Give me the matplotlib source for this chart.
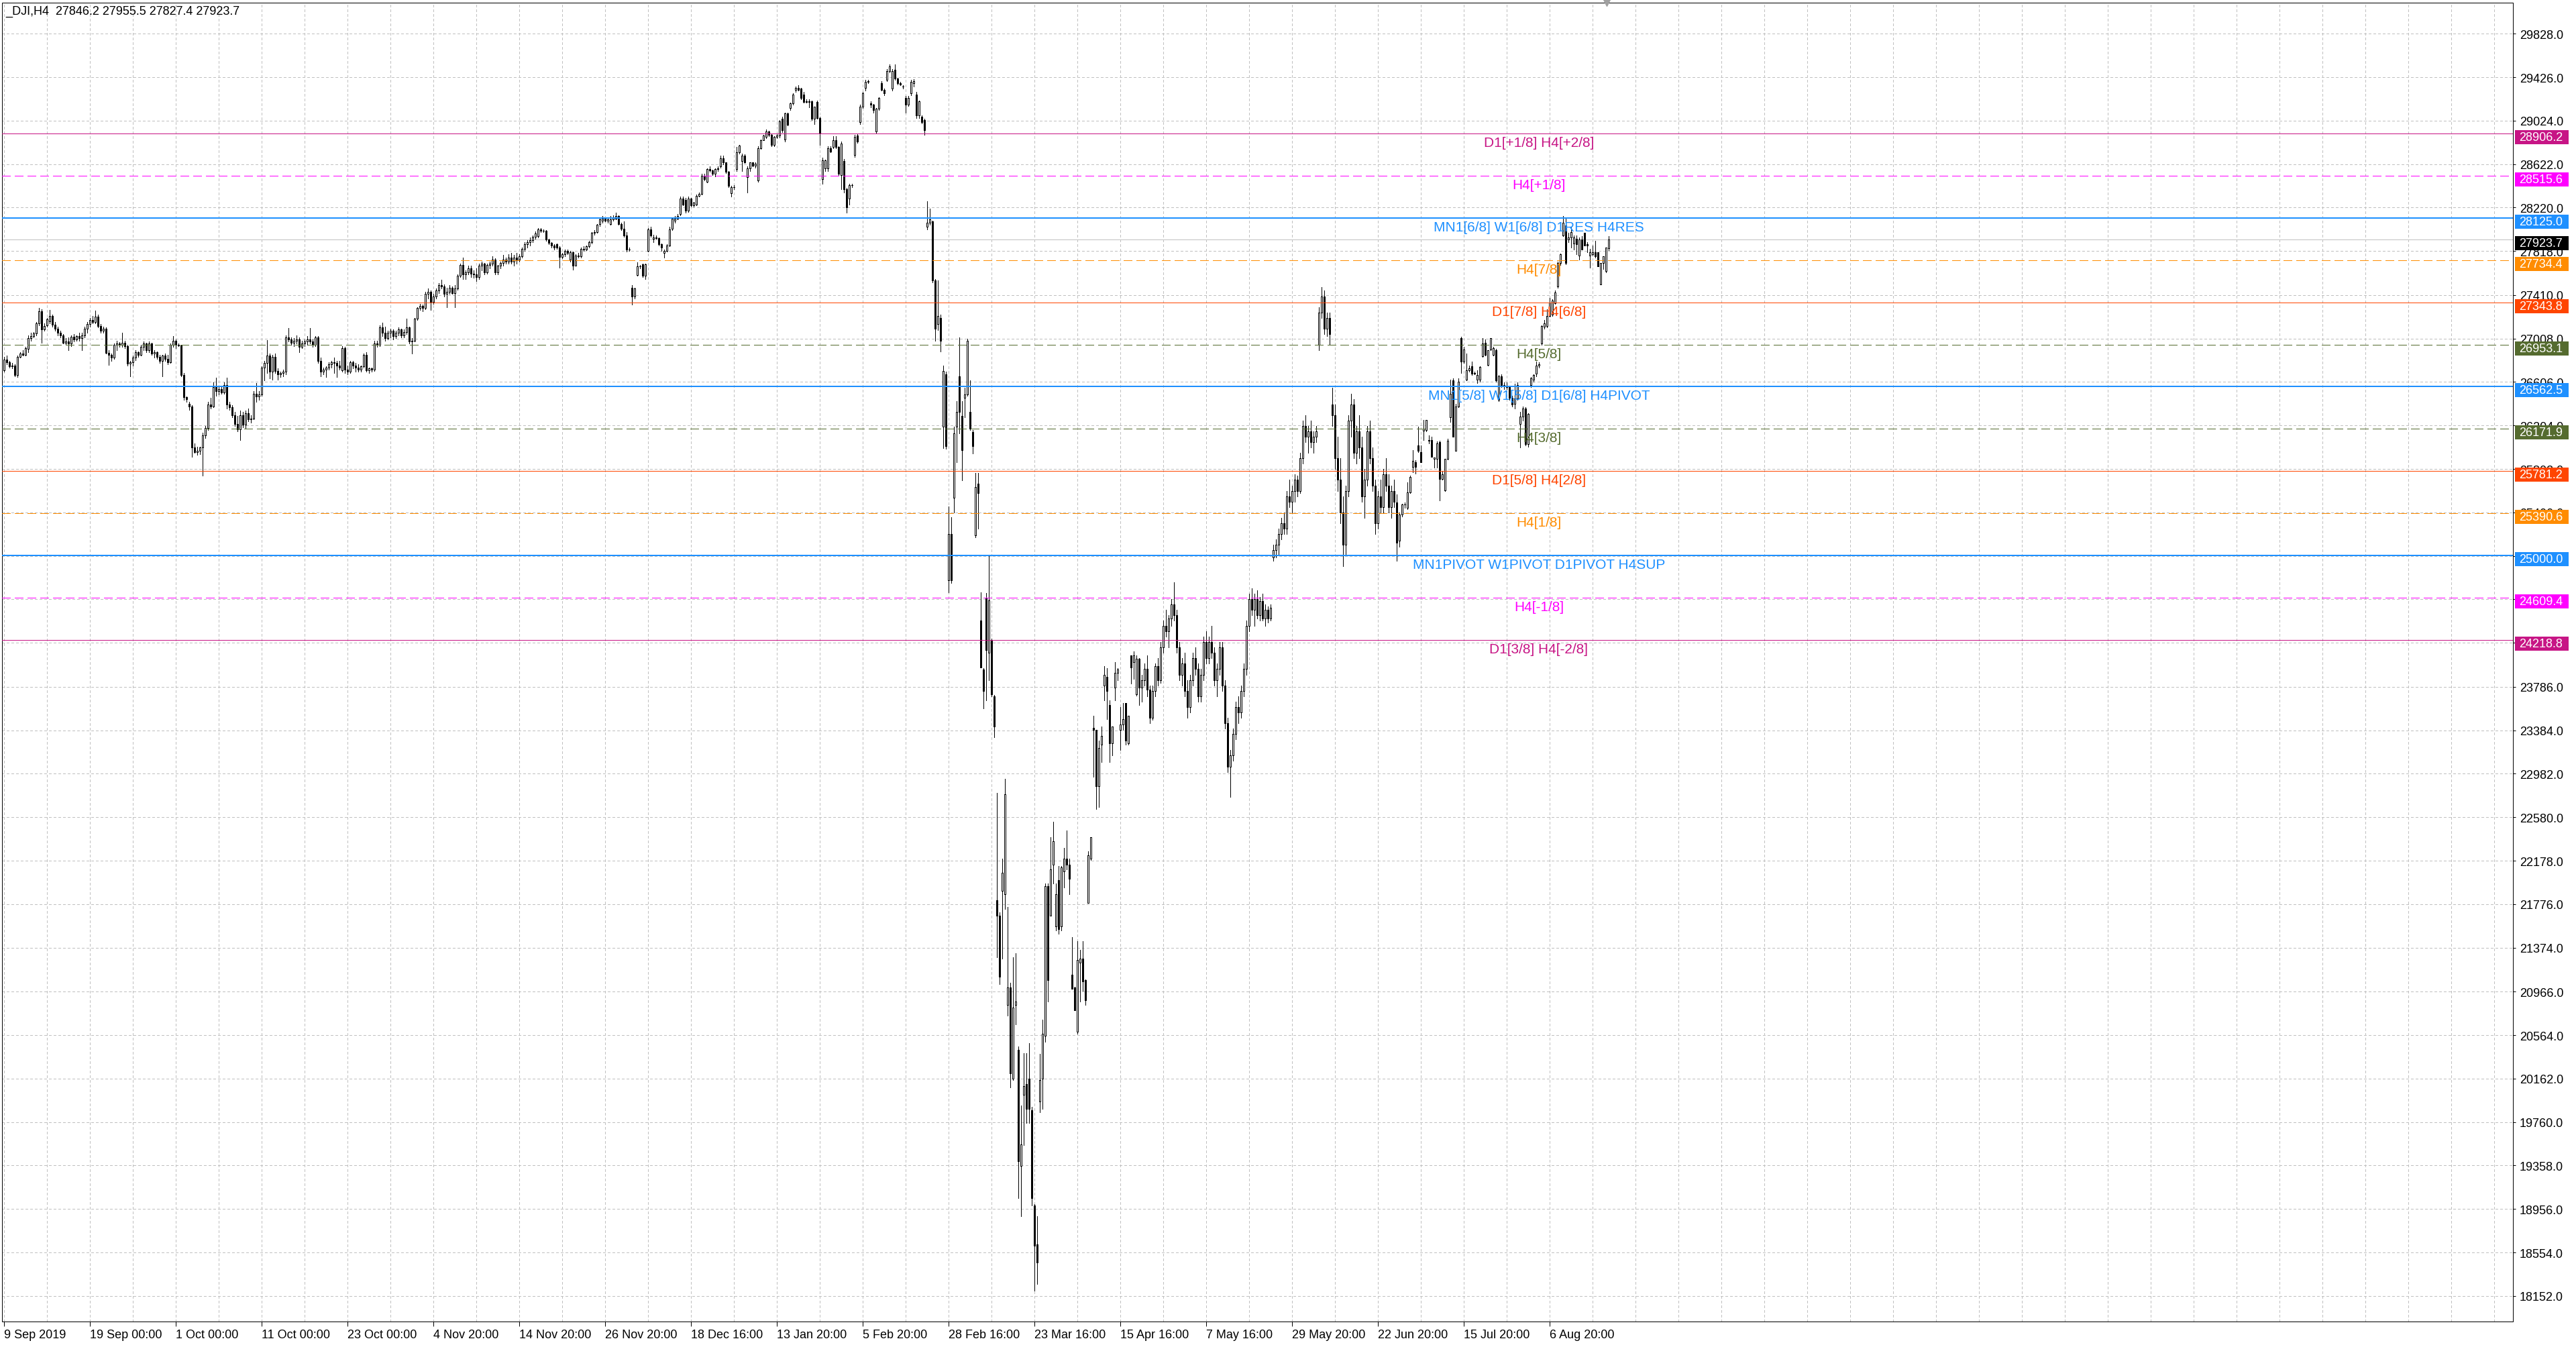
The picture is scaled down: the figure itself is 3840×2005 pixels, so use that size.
import matplotlib
matplotlib.use("Agg")
import matplotlib.pyplot as plt
from matplotlib.patches import Rectangle
from matplotlib.transforms import blended_transform_factory, offset_copy

plt.rcParams['font.family'] = ['Liberation Sans', 'DejaVu Sans']

symbol_info = "_DJI,H4  27846.2 27955.5 27827.4 27923.7"

# H4 candles, one row per 16 bars (one grid cell)
opens = [
    26712, 26816, 26790, 26754, 26760, 26671, 26836, 26867, 26860, 26910, 27012, 27033, 27054, 27147, 27260, 27095,
    27130, 27167, 27219, 27136, 27100, 27060, 27040, 26971, 26980, 26960, 27025, 27000, 27030, 27010, 27040, 27100,
    27140, 27180, 27160, 27209, 27126, 27080, 27100, 26878, 26860, 26830, 26950, 26960, 26950, 26970, 26940, 26774,
    26790, 26830, 26880, 26860, 26930, 26961, 26900, 26960, 26870, 26880, 26840, 26800, 26850, 26820, 26790, 26950,
    26990, 26950, 26945, 26671, 26464, 26402, 26380, 25999, 25960, 25970, 26000, 26110, 26180, 26400, 26380, 26560,
    26520, 26540, 26510, 26580, 26400, 26370, 26300, 26220, 26170, 26300, 26210, 26320, 26260, 26270, 26500, 26470,
    26490, 26740, 26780, 26850, 26700, 26840, 26710, 26680, 26690, 26700, 27020, 27000, 26970, 26990, 27000, 26930,
    26960, 26980, 27000, 26980, 26950, 27020, 26800, 26700, 26720, 26740, 26770, 26790, 26780, 26760, 26712, 26920,
    26720, 26700, 26790, 26760, 26740, 26720, 26750, 26860, 26712, 26730, 26720, 26960, 26950, 27110, 27060, 27010,
    27060, 27080, 27030, 27060, 27090, 27040, 27070, 27110, 26980, 26990, 27190, 27290, 27310, 27290, 27420, 27440,
    27350, 27400, 27450, 27500, 27490, 27420, 27440, 27480, 27430, 27470, 27590, 27690, 27600, 27620, 27660, 27610,
    27600, 27580, 27680, 27700, 27620, 27690, 27700, 27740, 27620, 27680, 27710, 27740, 27720, 27760, 27720, 27760,
    27740, 27770, 27840, 27880, 27900, 27920, 27950, 27953, 28015, 28005, 28005, 27922, 27896, 27866, 27881, 27850,
    27763, 27790, 27819, 27736, 27809, 27685, 27778, 27767, 27840, 27833, 27860, 27902, 27984, 27995, 28067, 28098,
    28119, 28098, 28067, 28109, 28119, 28140, 28070, 28026, 27960, 27829, 27480, 27395, 27595, 27674, 27695, 27591,
    27819, 28015, 27930, 27945, 27935, 27881, 27800, 27819, 27870, 28026, 28098, 28119, 28160, 28305, 28290, 28190,
    28300, 28243, 28250, 28330, 28346, 28512, 28460, 28574, 28564, 28530, 28574, 28600, 28677, 28636, 28553, 28350,
    28408, 28574, 28729, 28650, 28698, 28500, 28584, 28636, 28605, 28470, 28770, 28843, 28874, 28926, 28890, 28802,
    28874, 28884, 29039, 28850, 29091, 29143, 29184, 29308, 29329, 29319, 29267, 29205, 29195, 29205, 29039, 29195,
    29050, 28480, 28584, 28584, 28770, 28781, 28843, 28781, 28520, 28650, 28388, 28300, 28429, 28708, 28884, 29008,
    29153, 29329, 29381, 29184, 29174, 28926, 29133, 29370, 29308, 29400, 29484, 29319, 29494, 29412, 29370, 29339,
    29236, 29174, 29277, 29370, 29267, 29070, 29060, 29029, 28045, 28078, 28091, 27549, 27140, 27199, 26194, 26677,
    24774, 25203, 25534, 26194, 26657, 26294, 26459, 26492, 26327, 26142, 25190, 25666, 24397, 23947, 24608, 24099,
    24212, 23696, 21813, 21667, 21899, 21866, 20841, 21006, 20160, 20841, 20431, 19354, 20015, 20114, 20160, 19870,
    18991, 18627, 19949, 20160, 20557, 21945, 21667, 22143, 21568, 21998, 21568, 22077, 22196, 22143, 21125, 21006,
    20597, 21238, 21271, 21072, 21786, 22196, 23406, 23386, 22870, 23253, 23795, 23881, 23617, 23267, 23782, 23914,
    23386, 23439, 23637, 23267, 24080, 24014, 23716, 24047, 23782, 23850, 23950, 23760, 23500, 23750, 23980, 23850,
    24150, 24350, 24300, 24420, 24550, 24450, 24150, 23900, 24000, 23750, 23600, 23850, 24050, 23950, 23700, 23900,
    24200, 24050, 24200, 24100, 23850, 23950, 24150, 23800, 23450, 23050, 23150, 23350, 23600, 23550, 23750, 23950,
    24350, 24600, 24500, 24600, 24450, 24580, 24420, 24500, 24420, 24980, 25050, 25100, 25200, 25300, 25250, 25550,
    25500, 25600, 25700, 25600, 25900, 26200, 26100, 26150, 26050, 26100, 26950, 27250, 27400, 27100, 27200, 26400,
    26300, 25900, 25700, 25400, 25100, 25600, 26250, 26400, 25950, 26150, 26000, 25550, 25700, 26150, 25900, 25650,
    25300, 25550, 25450, 25750, 25650, 25450, 25600, 25492, 25140, 25380, 25471, 25440, 25585, 25823, 25864, 26019,
    25957, 26154, 26164, 26061, 26071, 25895, 25895, 26050, 25709, 25606, 25895, 26278, 26619, 25968, 26381, 27012,
    26795, 26629, 26712, 26754, 26681, 26629, 26629, 26847, 26971, 26765, 26909, 26857, 26898, 26444, 26661, 26580,
    26572, 26560, 26458, 26402, 26454, 26216, 26288, 26361, 26030, 26578, 26629, 26681, 26758, 26960, 27116, 27126,
    27219, 27229, 27337, 27488, 27705, 27964, 28057, 27922, 27943, 27887, 27933, 27778, 27922, 27984, 27881, 27778,
    27788, 27809, 27809, 27509, 27705, 27633, 27846,
]
highs = [
    26840, 26850, 26800, 26780, 26770, 26850, 26880, 26900, 26930, 27040, 27060, 27070, 27160, 27291, 27280, 27150,
    27200, 27271, 27230, 27160, 27120, 27080, 27050, 27010, 27020, 27040, 27050, 27040, 27060, 27060, 27120, 27160,
    27200, 27220, 27267, 27230, 27140, 27120, 27110, 26900, 26870, 26960, 26990, 26975, 27064, 26990, 26950, 26800,
    26850, 26900, 26890, 26950, 26980, 26970, 26980, 26970, 26900, 26890, 26860, 26860, 26870, 26860, 26960, 27033,
    27000, 26960, 26950, 26690, 26470, 26420, 26390, 26040, 26010, 26010, 26140, 26200, 26420, 26460, 26600, 26646,
    26560, 26570, 26600, 26646, 26420, 26390, 26330, 26290, 26340, 26330, 26340, 26360, 26300, 26520, 26599, 26520,
    26750, 26800, 26992, 26870, 26860, 26870, 26730, 26700, 26720, 27040, 27105, 27020, 27010, 27040, 27020, 26990,
    27000, 27030, 27105, 27000, 27030, 27030, 26830, 26740, 26750, 26790, 26800, 26830, 26800, 26800, 26940, 26930,
    26760, 26800, 26800, 26780, 26770, 26760, 26870, 26880, 26740, 26740, 26990, 26990, 27130, 27157, 27120, 27080,
    27100, 27090, 27080, 27110, 27100, 27090, 27190, 27120, 27010, 27200, 27300, 27330, 27320, 27440, 27470, 27450,
    27420, 27470, 27520, 27550, 27510, 27480, 27500, 27490, 27500, 27600, 27700, 27757, 27640, 27680, 27680, 27640,
    27660, 27700, 27720, 27710, 27700, 27720, 27767, 27750, 27690, 27720, 27780, 27760, 27790, 27800, 27780, 27800,
    27790, 27850, 27900, 27920, 27940, 27960, 28000, 28030, 28030, 28020, 28010, 27930, 27900, 27880, 27890, 27860,
    27800, 27830, 27830, 27820, 27815, 27790, 27800, 27850, 27860, 27870, 27910, 27995, 28010, 28070, 28120, 28140,
    28130, 28130, 28140, 28150, 28171, 28150, 28080, 28090, 27990, 27850, 27500, 27480, 27715, 27690, 27700, 27700,
    28030, 28040, 27970, 27960, 27940, 27890, 27830, 27880, 28040, 28130, 28140, 28160, 28320, 28320, 28310, 28320,
    28310, 28270, 28340, 28360, 28530, 28530, 28580, 28600, 28570, 28580, 28600, 28698, 28700, 28640, 28560, 28420,
    28430, 28780, 28800, 28720, 28710, 28600, 28640, 28640, 28640, 28790, 28850, 28890, 28940, 28930, 28900, 28880,
    28900, 29030, 29060, 29100, 29100, 29190, 29280, 29340, 29350, 29330, 29290, 29220, 29220, 29210, 29153, 29210,
    29060, 28680, 28660, 28790, 28790, 28880, 28880, 28790, 28830, 28670, 28400, 28440, 28440, 28890, 28900, 29170,
    29290, 29400, 29400, 29200, 29180, 29140, 29240, 29390, 29320, 29500, 29546, 29500, 29546, 29420, 29380, 29350,
    29250, 29250, 29400, 29410, 29290, 29210, 29070, 29040, 28276, 28210, 28100, 27560, 27549, 27230, 26756, 26700,
    25455, 25355, 26194, 26426, 27021, 26426, 26556, 27008, 26624, 26160, 25765, 25765, 24661, 23960, 24655, 24998,
    24230, 23710, 22804, 21700, 22196, 22936, 21747, 21050, 21284, 21324, 20460, 19916, 20398, 20398, 20491, 19900,
    19000, 18892, 20392, 20709, 21965, 21965, 22394, 22540, 21965, 22130, 22130, 22295, 22460, 22196, 21469, 21010,
    21436, 21350, 21436, 21080, 22262, 22394, 23518, 23386, 23287, 23419, 23980, 23960, 23663, 23420, 24014, 23960,
    23600, 23637, 23637, 23518, 24080, 24114, 24080, 24050, 23900, 24000, 24080, 23800, 23800, 24000, 24050, 24200,
    24400, 24500, 24450, 24600, 24752, 24500, 24200, 24050, 24100, 23850, 23900, 24100, 24150, 24000, 23950, 24250,
    24300, 24250, 24350, 24150, 24000, 24200, 24200, 23850, 23500, 23200, 23400, 23650, 23700, 23800, 24000, 24400,
    24650, 24700, 24650, 24680, 24620, 24650, 24550, 24530, 24550, 25100, 25150, 25250, 25350, 25400, 25600, 25700,
    25650, 25750, 25740, 25950, 26250, 26300, 26200, 26250, 26150, 26200, 27300, 27486, 27450, 27250, 27250, 26550,
    26400, 26100, 25900, 25550, 25650, 26300, 26500, 26450, 26200, 26300, 26100, 25800, 26200, 26250, 26000, 25700,
    25600, 25700, 25800, 25900, 25750, 25650, 25700, 25564, 25400, 25480, 25490, 25680, 25740, 25978, 25885, 26195,
    26019, 26257, 26257, 26113, 26102, 25910, 26055, 26060, 25782, 25895, 26081, 26630, 26640, 26402, 26640, 27022,
    26930, 26867, 26760, 26795, 26700, 26712, 26750, 27012, 27002, 26900, 27012, 26930, 26910, 26670, 26680, 26600,
    26600, 26570, 26480, 26588, 26600, 26330, 26380, 26371, 26320, 26650, 26680, 26795, 26790, 27130, 27178, 27281,
    27385, 27374, 27450, 27720, 27794, 28140, 28119, 27984, 28036, 27964, 27964, 27943, 27953, 27984, 27902, 27840,
    27871, 27912, 27809, 27705, 27771, 27850, 27955,
]
lows = [
    26700, 26770, 26740, 26730, 26660, 26650, 26830, 26850, 26850, 26880, 26990, 27020, 27040, 27130, 26971, 27080,
    27120, 27150, 27120, 27080, 27040, 27020, 26960, 26950, 26900, 26940, 26980, 26990, 26990, 26900, 27020, 27060,
    27120, 27150, 27150, 27110, 27060, 27060, 26870, 26764, 26800, 26820, 26900, 26930, 26930, 26920, 26760, 26660,
    26760, 26810, 26840, 26850, 26900, 26880, 26880, 26860, 26830, 26820, 26780, 26660, 26800, 26770, 26780, 26930,
    26920, 26940, 26660, 26440, 26420, 26350, 25916, 25950, 25930, 25940, 25740, 26090, 26160, 26360, 26370, 26480,
    26490, 26500, 26500, 26360, 26350, 26280, 26200, 26150, 26071, 26190, 26180, 26240, 26230, 26260, 26420, 26440,
    26480, 26620, 26690, 26640, 26630, 26690, 26630, 26650, 26660, 26680, 26980, 26950, 26940, 26960, 26880, 26920,
    26940, 26950, 26960, 26930, 26940, 26780, 26660, 26680, 26650, 26720, 26740, 26690, 26650, 26720, 26700, 26690,
    26680, 26690, 26730, 26700, 26700, 26700, 26740, 26700, 26690, 26700, 26710, 26930, 26940, 27030, 26990, 27000,
    27020, 27000, 27010, 27040, 27020, 27020, 27050, 26960, 26867, 26980, 27180, 27270, 27260, 27280, 27380, 27270,
    27330, 27380, 27430, 27470, 27400, 27300, 27420, 27420, 27300, 27460, 27580, 27560, 27560, 27600, 27580, 27570,
    27540, 27560, 27640, 27600, 27610, 27660, 27680, 27600, 27600, 27660, 27680, 27700, 27700, 27700, 27680, 27700,
    27720, 27760, 27820, 27850, 27870, 27900, 27930, 27940, 27990, 27990, 27910, 27880, 27850, 27830, 27840, 27664,
    27750, 27770, 27790, 27720, 27647, 27680, 27760, 27755, 27820, 27825, 27850, 27890, 27970, 27985, 28050, 28080,
    28090, 28080, 28060, 28100, 28110, 28060, 28010, 27950, 27810, 27820, 27322, 27380, 27590, 27660, 27580, 27560,
    27810, 27950, 27900, 27930, 27870, 27820, 27760, 27810, 27860, 28010, 28080, 28110, 28150, 28240, 28170, 28180,
    28230, 28230, 28240, 28320, 28340, 28470, 28450, 28553, 28520, 28510, 28560, 28590, 28620, 28540, 28410, 28320,
    28390, 28560, 28720, 28560, 28630, 28357, 28560, 28600, 28590, 28460, 28760, 28840, 28860, 28880, 28790, 28790,
    28860, 28870, 28920, 28830, 28980, 29120, 29170, 29290, 29300, 29220, 29190, 29190, 29150, 29030, 28990, 29040,
    28800, 28440, 28560, 28560, 28730, 28770, 28770, 28520, 28390, 28360, 28171, 28250, 28410, 28690, 28820, 28990,
    29140, 29300, 29370, 29150, 29100, 28910, 29120, 29300, 29260, 29390, 29470, 29300, 29400, 29360, 29350, 29320,
    29100, 29160, 29260, 29340, 29050, 29050, 29000, 28890, 28020, 28060, 27530, 26988, 27087, 26889, 25996, 25990,
    24661, 24750, 25401, 25864, 26129, 25698, 26280, 26480, 26162, 25943, 25170, 25249, 23967, 23584, 23663, 23848,
    23700, 23320, 21284, 21039, 21271, 21733, 20742, 20081, 20147, 20663, 19057, 18892, 19550, 19751, 19751, 18991,
    18198, 18264, 19850, 19883, 20500, 20874, 21667, 21965, 21535, 21502, 21535, 21932, 22097, 21866, 20993, 20795,
    20577, 20874, 20973, 20841, 21786, 22183, 22956, 22659, 22672, 23088, 23663, 23485, 23088, 23154, 23663, 23848,
    23201, 23386, 23253, 23253, 23815, 23860, 23703, 23617, 23650, 23800, 23700, 23450, 23480, 23700, 23800, 23820,
    24100, 24250, 24150, 24350, 24400, 24100, 23850, 23800, 23700, 23500, 23550, 23800, 23900, 23650, 23650, 23850,
    24000, 24000, 24050, 23800, 23700, 23900, 23750, 23400, 23000, 22770, 23100, 23300, 23450, 23500, 23700, 23900,
    24300, 24450, 24350, 24420, 24400, 24400, 24350, 24380, 24400, 24950, 24980, 25000, 25150, 25200, 25200, 25450,
    25400, 25500, 25550, 25580, 25850, 26050, 25950, 26000, 25950, 26050, 26900, 27200, 27050, 27031, 26950, 26200,
    25800, 25600, 25300, 24900, 25000, 25550, 26100, 25900, 25850, 25900, 25500, 25350, 25650, 25850, 25600, 25200,
    25250, 25400, 25400, 25600, 25400, 25350, 25450, 24954, 25080, 25360, 25440, 25430, 25580, 25771, 25761, 25957,
    25864, 26071, 26150, 26040, 25916, 25813, 25813, 25513, 25700, 25600, 25890, 26237, 26102, 25968, 26370, 26691,
    26780, 26620, 26700, 26670, 26680, 26598, 26609, 26840, 26850, 26760, 26900, 26850, 26609, 26430, 26560, 26540,
    26540, 26440, 26380, 26361, 26440, 25999, 26250, 26019, 26009, 26557, 26610, 26660, 26740, 26950, 27100, 27110,
    27210, 27220, 27330, 27480, 27690, 27953, 27695, 27902, 27850, 27829, 27788, 27736, 27829, 27871, 27809, 27664,
    27778, 27757, 27674, 27509, 27653, 27623, 27827,
]
closes = [
    26816, 26790, 26754, 26760, 26671, 26836, 26867, 26860, 26919, 27012, 27033, 27054, 27147, 27260, 27095, 27126,
    27188, 27219, 27136, 27100, 27060, 27040, 26971, 26980, 26960, 27025, 27000, 27030, 27010, 27040, 27100, 27140,
    27180, 27160, 27209, 27126, 27080, 27100, 26878, 26860, 26830, 26950, 26960, 26950, 26970, 26940, 26774, 26790,
    26830, 26880, 26860, 26930, 26961, 26900, 26960, 26870, 26880, 26840, 26800, 26850, 26820, 26790, 26950, 26990,
    26950, 26945, 26671, 26464, 26450, 26380, 25999, 25960, 25970, 26000, 26110, 26180, 26400, 26380, 26560, 26520,
    26540, 26510, 26580, 26400, 26370, 26300, 26220, 26170, 26300, 26210, 26320, 26260, 26270, 26500, 26470, 26490,
    26740, 26780, 26850, 26700, 26840, 26710, 26680, 26690, 26700, 27020, 27000, 26970, 26990, 27000, 26930, 26960,
    26980, 27000, 26980, 26950, 27020, 26800, 26700, 26720, 26740, 26770, 26790, 26780, 26760, 26740, 26920, 26720,
    26700, 26790, 26760, 26740, 26720, 26750, 26860, 26712, 26730, 26720, 26960, 26950, 27110, 27060, 27010, 27060,
    27080, 27030, 27060, 27090, 27040, 27070, 27110, 26980, 26990, 27190, 27290, 27310, 27290, 27420, 27440, 27350,
    27400, 27450, 27500, 27490, 27420, 27440, 27480, 27430, 27470, 27590, 27690, 27600, 27620, 27660, 27610, 27600,
    27580, 27680, 27700, 27620, 27690, 27700, 27740, 27620, 27680, 27710, 27740, 27720, 27760, 27720, 27760, 27740,
    27770, 27840, 27880, 27900, 27920, 27950, 27980, 28015, 28005, 28005, 27922, 27896, 27866, 27850, 27850, 27763,
    27790, 27819, 27798, 27809, 27685, 27778, 27770, 27840, 27833, 27860, 27902, 27984, 27995, 28060, 28109, 28119,
    28098, 28110, 28109, 28125, 28140, 28070, 28026, 27960, 27829, 27830, 27395, 27470, 27674, 27674, 27591, 27695,
    28015, 27960, 27945, 27935, 27881, 27850, 27819, 27870, 28015, 28119, 28119, 28140, 28305, 28250, 28190, 28300,
    28243, 28264, 28330, 28346, 28512, 28481, 28574, 28564, 28530, 28574, 28580, 28677, 28636, 28553, 28420, 28408,
    28410, 28729, 28791, 28700, 28640, 28584, 28636, 28605, 28625, 28770, 28843, 28884, 28926, 28890, 28802, 28874,
    28884, 29019, 28936, 29091, 28988, 29184, 29267, 29329, 29308, 29236, 29195, 29195, 29205, 29039, 29153, 29050,
    28905, 28657, 28657, 28770, 28739, 28843, 28781, 28533, 28812, 28388, 28222, 28429, 28429, 28874, 28833, 29153,
    29277, 29381, 29390, 29174, 29122, 29133, 29236, 29308, 29277, 29484, 29525, 29484, 29412, 29370, 29360, 29339,
    29174, 29236, 29381, 29391, 29070, 29205, 29008, 28936, 28078, 28111, 27549, 27100, 27219, 26988, 26710, 26016,
    25203, 24774, 26130, 26327, 26327, 25976, 26492, 26988, 26175, 26016, 25633, 25580, 23967, 23749, 24126, 24589,
    23716, 23419, 21667, 21105, 22064, 22791, 21006, 20213, 20821, 20874, 19401, 19552, 20094, 19883, 19883, 19057,
    18614, 18462, 20147, 20577, 21945, 21072, 22097, 22361, 21866, 21548, 22117, 22196, 22143, 22011, 20993, 20795,
    21258, 21271, 21059, 20887, 22229, 22394, 23386, 22870, 23220, 23333, 23894, 23749, 23267, 23419, 23914, 23947,
    23439, 23485, 23287, 23518, 23967, 24080, 24047, 23782, 23850, 23950, 23760, 23500, 23750, 23980, 23850, 24150,
    24350, 24300, 24420, 24550, 24450, 24150, 23900, 24000, 23750, 23600, 23850, 24050, 23950, 23700, 23900, 24200,
    24050, 24200, 24100, 23850, 23950, 24150, 23800, 23450, 23050, 23150, 23350, 23600, 23550, 23750, 23950, 24350,
    24600, 24500, 24600, 24450, 24580, 24420, 24500, 24420, 24520, 25050, 25100, 25200, 25300, 25250, 25550, 25500,
    25600, 25700, 25600, 25900, 26200, 26100, 26150, 26050, 26100, 26150, 27250, 27400, 27100, 27200, 27050, 26300,
    25900, 25700, 25400, 25100, 25600, 26250, 26400, 25950, 26150, 26000, 25550, 25700, 26150, 25900, 25650, 25300,
    25550, 25450, 25750, 25650, 25450, 25600, 25500, 25120, 25380, 25471, 25475, 25585, 25730, 25875, 25823, 25968,
    25864, 26175, 26257, 26071, 25916, 25906, 26040, 25709, 25751, 25895, 26061, 26495, 26102, 26381, 26609, 26795,
    26909, 26712, 26733, 26681, 26691, 26671, 26743, 26960, 26857, 26898, 27012, 26919, 26619, 26661, 26580, 26572,
    26560, 26458, 26400, 26454, 26578, 26288, 26361, 26030, 26309, 26640, 26671, 26758, 26768, 27126, 27147, 27219,
    27343, 27358, 27436, 27705, 27788, 28077, 27705, 27943, 27995, 27943, 27881, 27922, 27833, 27871, 27871, 27809,
    27809, 27767, 27674, 27705, 27771, 27850, 27924,
]

# Murrey math levels drawn by the indicator
level_prices = [28906.2, 28515.6, 28125.0, 27734.4, 27343.8, 26953.1, 26562.5,
                26171.9, 25781.2, 25390.6, 25000.0, 24609.4, 24218.8]
level_names = ["D1[+1/8] H4[+2/8]", "H4[+1/8]", "MN1[6/8] W1[6/8] D1RES H4RES",
               "H4[7/8]", "D1[7/8] H4[6/8]", "H4[5/8]",
               "MN1[5/8] W1[5/8] D1[6/8] H4PIVOT", "H4[3/8]", "D1[5/8] H4[2/8]",
               "H4[1/8]", "MN1PIVOT W1PIVOT D1PIVOT H4SUP", "H4[-1/8]", "D1[3/8] H4[-2/8]"]
level_colors = ["#C71585", "#FF00FF", "#1E90FF", "#FF8C00", "#FF4500", "#556B2F", "#1E90FF",
                "#556B2F", "#FF4500", "#FF8C00", "#1E90FF", "#FF00FF", "#C71585"]
level_dashed = [False, True, False, True, False, True, False, True, False, True, False, True, False]
level_thick = [False, False, True, False, False, False, True, False, False, False, True, False, False]

bid_price = 27923.7

price_ticks = [29828, 29426, 29024, 28622, 28220, 27818, 27410, 27008, 26606, 26204,
               25802, 25400, 24998, 24596, 24194, 23786, 23384, 22982, 22580, 22178,
               21776, 21374, 20966, 20564, 20162, 19760, 19358, 18956, 18554, 18152]
date_labels = ["9 Sep 2019", "19 Sep 00:00", "1 Oct 00:00", "11 Oct 00:00", "23 Oct 00:00",
               "4 Nov 20:00", "14 Nov 20:00", "26 Nov 20:00", "18 Dec 16:00", "13 Jan 20:00",
               "5 Feb 20:00", "28 Feb 16:00", "23 Mar 16:00", "15 Apr 16:00", "7 May 16:00",
               "29 May 20:00", "22 Jun 20:00", "15 Jul 20:00", "6 Aug 20:00"]

n = len(closes)
assert len(opens) == n and len(highs) == n and len(lows) == n, (len(opens), len(highs), len(lows), n)

W, H = 3840, 2006
PX = 0.72  # one pixel in points at dpi 100
fig = plt.figure(figsize=(W / 100, H / 100), dpi=100)
ax = fig.add_axes([3 / W, 1 - 1971 / H, (3746 - 3) / W, (1971 - 5) / H])
ax.set_xlim(-0.75, 935)
ax.set_ylim(17915, 30115)
ax.set_axisbelow(True)

for sp in ax.spines.values():
    sp.set_color("black")
    sp.set_linewidth(PX)
    sp.set_antialiased(False)

# grid
ax.set_xticks(range(0, 32 * len(date_labels), 32))
ax.set_xticklabels(date_labels, ha="left", fontsize=13)
ax.set_xticks(range(0, 935, 16), minor=True)
ax.tick_params(axis="x", which="major", length=5, width=PX, pad=3)
ax.tick_params(axis="x", which="minor", length=0)
ax.yaxis.tick_right()
ax.set_yticks(price_ticks)
ax.set_yticklabels([f"{v:.1f}" for v in price_ticks], fontsize=13)
ax.tick_params(axis="y", length=3, width=PX, pad=4)
grid_kw = dict(color="#C0C0C0", linestyle=(0, (3, 3)), linewidth=PX, antialiased=False)
ax.grid(axis="x", which="both", **grid_kw)
ax.grid(axis="y", which="major", **grid_kw)

# bid line
ax.axhline(bid_price, color="#C0C0C0", linewidth=PX, zorder=2, antialiased=False)

# candles
xs = list(range(n))
ax.vlines(xs, [min(l, o, c) for l, o, c in zip(lows, opens, closes)],
          [max(h, o, c) for h, o, c in zip(highs, opens, closes)],
          color="black", linewidth=PX, zorder=3, antialiased=False)
up = [i for i in xs if closes[i] >= opens[i]]
dn = [i for i in xs if closes[i] < opens[i]]
ax.bar(up, [closes[i] - opens[i] for i in up], bottom=[opens[i] for i in up], width=0.55,
       facecolor="white", edgecolor="black", linewidth=PX, zorder=4, antialiased=False)
ax.bar(dn, [opens[i] - closes[i] for i in dn], bottom=[closes[i] for i in dn], width=0.55,
       facecolor="black", edgecolor="black", linewidth=PX, zorder=4, antialiased=False)

# levels, labels and price tags
ppx = (ax.get_ylim()[1] - ax.get_ylim()[0]) / (1971 - 5)
tag_tr = blended_transform_factory(ax.transAxes, ax.transData)
lab_tr = offset_copy(ax.transData, fig=fig, y=-4, units="dots")
for price, name, col, dashed, thick in zip(level_prices, level_names, level_colors,
                                           level_dashed, level_thick):
    ls = (0, (13, 6)) if dashed else "solid"
    ax.axhline(price, color=col, linewidth=2 * PX if thick else PX, linestyle=ls, zorder=5,
               antialiased=False)
    ax.text(572, price, name, color=col, fontsize=15, ha="center", va="top",
            transform=lab_tr, zorder=6)

tag_prices = level_prices[:3] + [bid_price] + level_prices[3:]
tag_colors = level_colors[:3] + ["black"] + level_colors[3:]
for price, col in zip(tag_prices, tag_colors):
    ax.add_patch(Rectangle((1.0008, price - 16 * ppx), 80 / 3743, 21 * ppx, transform=tag_tr,
                           facecolor=col, edgecolor="none", clip_on=False, zorder=10))
    ax.text(1.0024, price - 5.5 * ppx, f"{price:.1f}", color="white", fontsize=13,
            ha="left", va="center", transform=tag_tr, clip_on=False, zorder=11)

# chart shift marker
ax.plot([597.25], [1.0], marker="v", markersize=7, color="#A0A0A0", clip_on=False,
        transform=blended_transform_factory(ax.transData, ax.transAxes), zorder=12)

fig.text(8 / W, 1 - 17 / H, symbol_info, fontsize=13, va="center", ha="left")

fig.savefig("out.png", dpi=100, facecolor="white")
